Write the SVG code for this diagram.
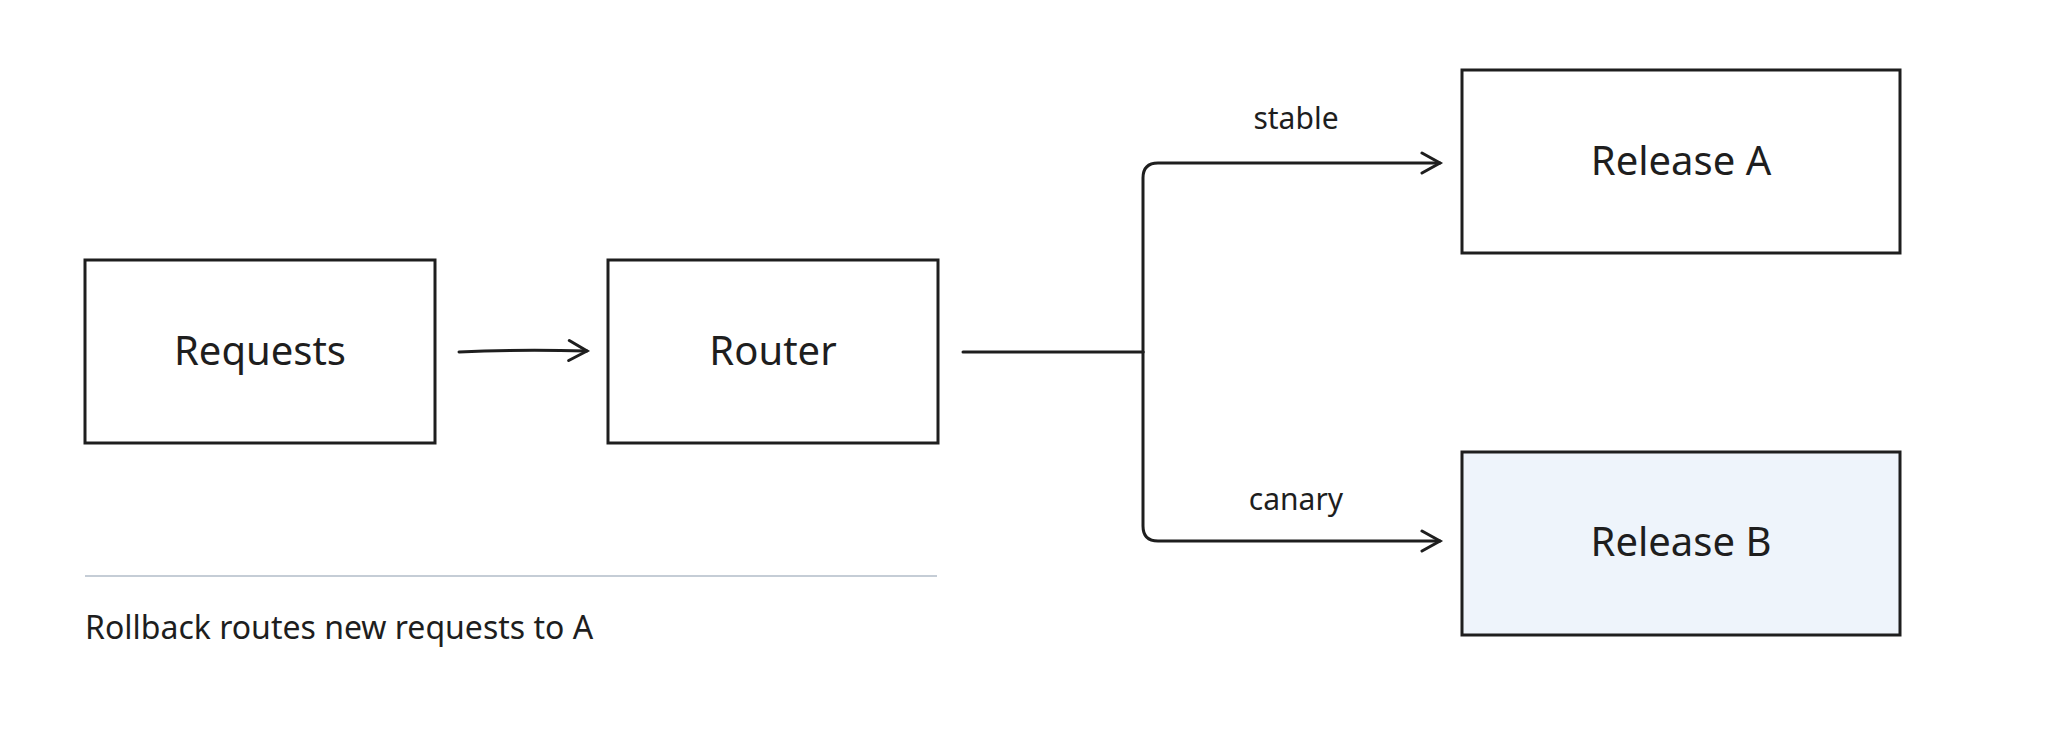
<svg xmlns="http://www.w3.org/2000/svg" width="2045" height="745" viewBox="0 0 2045 745">
<style>
.box{fill:#fff;stroke:#1e1e1e;stroke-width:3}
.lbl{font-family:"Comic Sans MS","Noto Sans",sans-serif;font-size:40px;fill:#1e1e1e;text-anchor:middle}
.edge{fill:none;stroke:#1e1e1e;stroke-width:3;stroke-linecap:round}
.small{font-family:"Comic Sans MS","Noto Sans",sans-serif;font-size:30px;fill:#1e1e1e}
</style>
<defs><marker id="ah" markerWidth="24" markerHeight="24" refX="20" refY="12" orient="auto" markerUnits="userSpaceOnUse"><path d="M2 2 L20 12 L2 22" fill="none" stroke="#1e1e1e" stroke-width="3" stroke-linecap="round"/></marker></defs>
<rect width="2045" height="745" fill="#fff"/>
<g id="requests"><rect class="box" x="85" y="260" width="350" height="183"/><text class="lbl" x="260" y="365">Requests</text></g>
<g id="router"><rect class="box" x="608" y="260" width="330" height="183"/><text class="lbl" x="773" y="365">Router</text></g>
<g id="releaseA"><rect class="box" x="1462" y="70" width="438" height="183"/><text class="lbl" x="1681" y="175">Release A</text></g>
<g id="releaseB"><rect class="box" x="1462" y="452" width="438" height="183" style="fill:#eef4fb"/><text class="lbl" x="1681" y="556">Release B</text></g>
<g id="connectors">
<path class="edge" d="M459 352 Q520 349 587 351" marker-end="url(#ah)"/>
<path class="edge" d="M963 352 L1143 352"/>
<path class="edge" d="M1143 352 L1143 178 Q1143 163 1158 163 L1440 163" marker-end="url(#ah)"/>
<path class="edge" d="M1143 352 L1143 526 Q1143 541 1158 541 L1440 541" marker-end="url(#ah)"/>
<text class="small" x="1296" y="129" text-anchor="middle">stable</text>
<text class="small" x="1296" y="510" text-anchor="middle">canary</text>
</g>
<line x1="85" y1="576" x2="937" y2="576" stroke="#c5cdd6" stroke-width="2"/>
<text class="small" x="85" y="639" style="font-size:32px">Rollback routes new requests to A</text>
</svg>
